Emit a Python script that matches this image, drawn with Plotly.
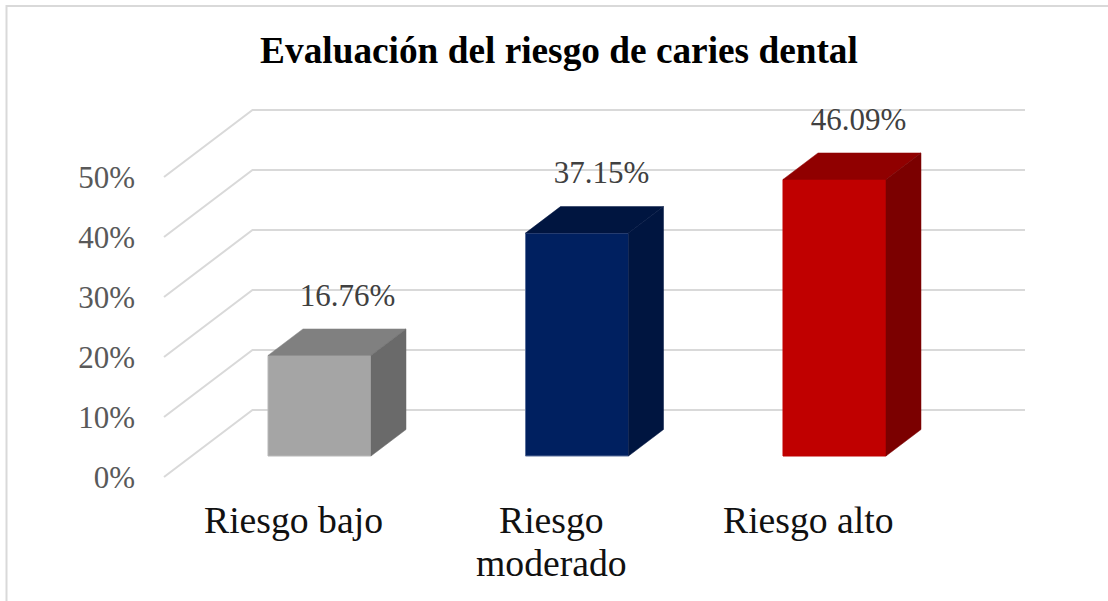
import plotly.graph_objects as go

categories = ["Riesgo bajo", "Riesgo<br>moderado", "Riesgo alto"]
values = [16.76, 37.15, 46.09]
percent_ticks = [0, 10, 20, 30, 40, 50]
front_colors = ["#a5a5a5", "#002060", "#c00000"]
top_colors = ["#808080", "#001540", "#900000"]
side_colors = ["#6a6a6a", "#001540", "#7b0000"]
edge_colors = ["#b8b8b8", "#5a6f9a", "#c00000"]

PX_W, PX_H = 1108, 601
# x unit = one category step, y unit = one percent
X_PX, Y_PX = 257.5, 6.0
x_range = [-319.5 / X_PX, (PX_W - 319.5) / X_PX]
y_range = [-(PX_H - 456) / Y_PX, 456 / Y_PX]
BAR_W = 103 / X_PX
DEPTH_X, DEPTH_Y = 35 / X_PX, 26.5 / Y_PX
LABEL_SHIFT_PX = [28, 24.5, 24]

# the floor of the 3D box: where a tick sits on the front edge and on the back wall
FRONT_DROP = -21 / Y_PX
WALL_RISE = 46 / Y_PX
FRONT_X, WALL_X, RIGHT_X = (164 - 319.5) / X_PX, (252.5 - 319.5) / X_PX, (1025 - 319.5) / X_PX

fig = go.Figure()

xs = list(range(len(values)))
fig.add_trace(go.Bar(x=xs, y=values, width=BAR_W, marker=dict(color=front_colors, line=dict(color=edge_colors, width=1)),
                     showlegend=False, hoverinfo="skip"))

for i, v in enumerate(values):
    l, r = i - BAR_W / 2, i + BAR_W / 2
    # top face
    fig.add_trace(go.Scatter(x=[l, r, r + DEPTH_X, l + DEPTH_X, l], y=[v, v, v + DEPTH_Y, v + DEPTH_Y, v],
                             mode="lines", fill="toself", fillcolor=top_colors[i], line=dict(color=top_colors[i], width=0.5),
                             showlegend=False, hoverinfo="skip"))
    # side face
    fig.add_trace(go.Scatter(x=[r, r + DEPTH_X, r + DEPTH_X, r, r], y=[0, DEPTH_Y, v + DEPTH_Y, v, 0],
                             mode="lines", fill="toself", fillcolor=side_colors[i], line=dict(color=side_colors[i], width=0.5),
                             showlegend=False, hoverinfo="skip"))

# data labels
fig.add_trace(go.Scatter(x=[i + LABEL_SHIFT_PX[i] / X_PX for i in xs], y=[v + 57.5 / Y_PX for v in values], mode="text",
                         text=[f"{v:.2f}%" for v in values], textposition="middle center",
                         textfont=dict(family="Liberation Serif", size=31, color="#404040"),
                         showlegend=False, hoverinfo="skip"))

# gridlines run along the side wall and then across the back wall
shapes = []
for t in percent_ticks:
    path = f"M {FRONT_X} {t + FRONT_DROP} L {WALL_X} {t + WALL_RISE} L {RIGHT_X} {t + WALL_RISE}"
    shapes.append(dict(type="path", path=path, xref="x", yref="y", layer="below", line=dict(color="#d9d9d9", width=2)))

# chart border, only top and left are inside the picture
shapes.append(dict(type="rect", xref="paper", yref="paper", x0=6.5 / PX_W, x1=1.01, y0=-0.01, y1=1 - 6 / PX_H,
                   line=dict(color="#d9d9d9", width=2), layer="below"))

# second line of a category sits closer than the default line height
for i, cat in enumerate(categories):
    for j, line in enumerate(cat.split("<br>")):
        fig.add_annotation(x=i - 26 / X_PX, y=(456 - 520 - 43 * j) / Y_PX, text=line, showarrow=False,
                           font=dict(family="Liberation Serif", size=37.7, color="#111111"), xanchor="center", yanchor="middle")

fig.update_layout(
    width=PX_W, height=PX_H, margin=dict(l=0, r=0, t=0, b=0),
    paper_bgcolor="white", plot_bgcolor="white",
    title=dict(text="<b>Evaluación del riesgo de caries dental</b>", x=559 / PX_W, xanchor="center", y=1 - 50 / PX_H, yanchor="middle",
               font=dict(family="Liberation Serif", size=37.3, color="#000000")),
    shapes=shapes,
    xaxis=dict(range=x_range, visible=False, fixedrange=True),
    yaxis=dict(range=y_range, anchor="free", position=135 / PX_W, showgrid=False, zeroline=False, showline=False, ticks="",
               tickvals=[t + FRONT_DROP for t in percent_ticks], ticktext=[f"{t}%" for t in percent_ticks],
               tickfont=dict(family="Liberation Serif", size=31, color="#595959"), fixedrange=True),
)

fig.write_html("out.html", post_script="document.body.style.margin='0';", config=dict(displayModeBar=False))
